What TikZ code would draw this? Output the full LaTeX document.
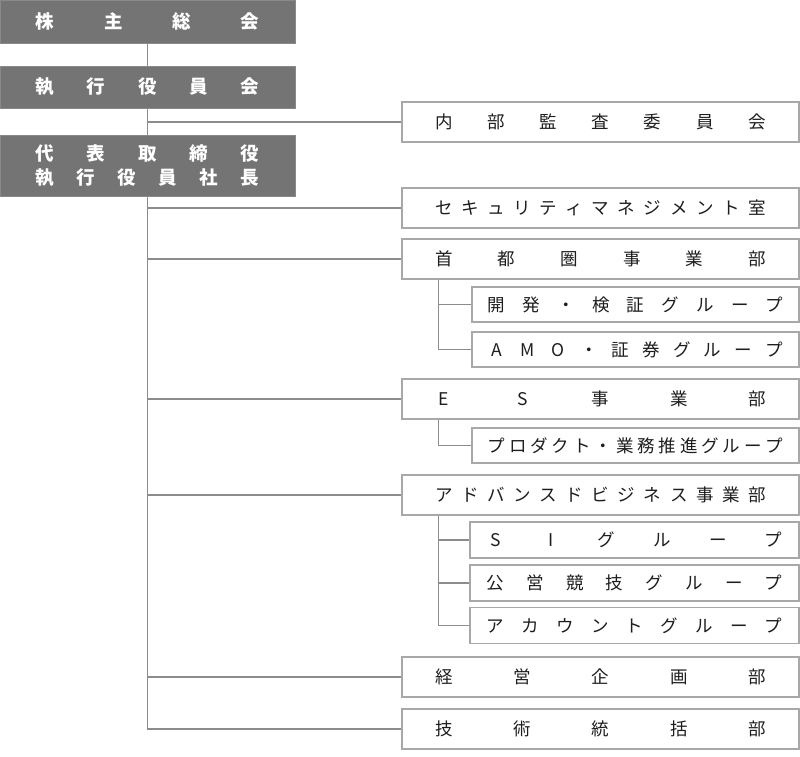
\documentclass[tikz,border=0pt]{standalone}
\usepackage{fontspec}
\newfontfamily\jp{Noto Sans CJK JP}
\definecolor{darkbox}{HTML}{747474}
\definecolor{boxline}{HTML}{A8A8A8}
\definecolor{conn}{HTML}{8C8C8C}
\definecolor{txt}{HTML}{1E1E1E}
\makeatletter
\def\spr@loop#1#2\spr@end{\makebox[1em]{#1}\if\relax\detokenize{#2}\relax\else\hfill\spr@loop#2\spr@end\fi}
\newcommand\spr[2]{\makebox[#1][s]{\spr@loop#2\spr@end}}
\makeatother
\tikzset{
  lbox/.style={rectangle, fill=darkbox, draw=darkbox!85!white, line width=0.8pt, inner sep=0pt, minimum width=295pt, text=white, font=\jp\bfseries\fontsize{18.5}{24}\selectfont},
  rbox/.style={rectangle, draw=boxline, fill=white, line width=1.2pt, inner sep=0pt, minimum width=397pt, minimum height=40pt, text=txt, font=\jp\fontsize{17.5}{20}\selectfont},
  sbox/.style={rbox, minimum width=327pt, minimum height=35pt},
  tbox/.style={rbox, minimum width=329pt, minimum height=36pt},
  conn/.style={draw=conn, line width=1.2pt}
}
\begin{document}
\begin{tikzpicture}[x=1pt,y=-1pt]
\useasboundingbox (0,0) rectangle (800,757);
% left column
\node[lbox, minimum height=43pt] (shareholders) at (147.5,21.5) {\spr{223.5pt}{株主総会}};
\node[lbox, minimum height=42pt] (exec) at (147.5,87) {\spr{223.5pt}{執行役員会}};
\node[lbox, minimum height=61pt, align=center] (ceo) at (147.5,165.5) {\spr{223.5pt}{代表取締役}\\\spr{223.5pt}{執行役員社長}};
% right column
\node[rbox] (audit) at (600.5,122) {\spr{330.5pt}{内部監査委員会}};
\node[rbox] (sec) at (600.5,208) {\spr{330.5pt}{セキュリティマネジメント室}};
\node[rbox] (shuto) at (600.5,259) {\spr{330.5pt}{首都圏事業部}};
\node[sbox] (kaihatsu) at (635.5,304.5) {\spr{295.5pt}{開発・検証グループ}};
\node[sbox] (amo) at (635.5,349.5) {\spr{295.5pt}{AMO・証券グループ}};
\node[rbox] (es) at (600.5,399) {\spr{330.5pt}{ES事業部}};
\node[sbox] (product) at (635.5,445.5) {\spr{295.5pt}{プロダクト・業務推進グループ}};
\node[rbox] (adv) at (600.5,495) {\spr{330.5pt}{アドバンスドビジネス事業部}};
\node[tbox] (si) at (634.5,540) {\spr{295.5pt}{SIグループ}};
\node[tbox] (koei) at (634.5,583) {\spr{295.5pt}{公営競技グループ}};
\node[tbox] (account) at (634.5,625.5) {\spr{295.5pt}{アカウントグループ}};
\node[rbox] (keiei) at (600.5,677) {\spr{330.5pt}{経営企画部}};
\node[rbox] (gijutsu) at (600.5,729) {\spr{330.5pt}{技術統括部}};
% connectors
\draw[conn] (shareholders.south) -- (exec.north);
\draw[conn] (exec.south) -- (ceo.north);
\draw[conn] (exec.south) |- (audit.west);
\draw[conn] (ceo.south) |- (gijutsu.west);
\draw[conn] (ceo.south) |- (sec.west);
\draw[conn] (ceo.south) |- (shuto.west);
\draw[conn] (ceo.south) |- (es.west);
\draw[conn] (ceo.south) |- (adv.west);
\draw[conn] (ceo.south) |- (keiei.west);
\draw[conn] ([xshift=37pt]shuto.south west) |- (amo.west);
\draw[conn] ([xshift=37pt]shuto.south west) |- (kaihatsu.west);
\draw[conn] ([xshift=37pt]es.south west) |- (product.west);
\draw[conn] ([xshift=37pt]adv.south west) |- (account.west);
\draw[conn] ([xshift=37pt]adv.south west) |- (si.west);
\draw[conn] ([xshift=37pt]adv.south west) |- (koei.west);
\end{tikzpicture}
\end{document}
